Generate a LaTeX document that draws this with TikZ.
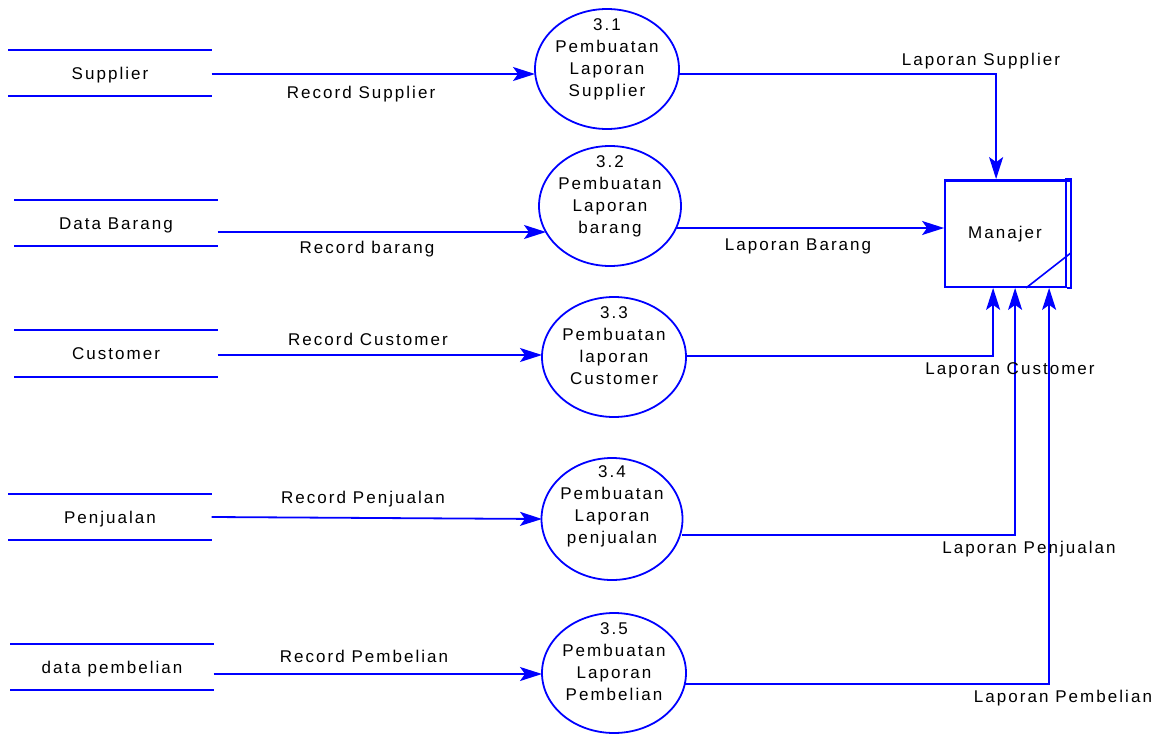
\documentclass[tikz,border=0pt]{standalone}
\usepackage{fontspec}
\setmainfont{Liberation Sans}[LetterSpace=12]
\usetikzlibrary{arrows.meta,calc,shapes.geometric}
\definecolor{dfdblue}{RGB}{0,0,255}
\tikzset{
  x=1pt, y=-1pt,
  every node/.style={font=\fontsize{17}{22}\selectfont, text=black},
  store/.style={minimum width=203pt, minimum height=46pt, inner sep=0pt,
                text height=12pt, text depth=0pt},
  storeline/.style={draw=dfdblue, line width=1.8pt},
  proc/.style={ellipse, draw=dfdblue, line width=1.8pt, inner sep=0pt},
  proctext/.style={align=center, inner sep=0pt},
  flow/.style={draw=dfdblue, line width=1.8pt, -{Stealth[length=22pt,width=14pt,inset=5pt]}},
  lbl/.style={inner sep=0pt}
}
\begin{document}
\begin{tikzpicture}
\useasboundingbox (0,0) rectangle (1162,736);

% external data stores (open-ended)
\node[store] (s1) at (110,73)  {Supplier};
\node[store] (s2) at (116,223) {Data Barang};
\node[store] (s3) at (116,353.5) {Customer};
\node[store] (s4) at (110,517) {Penjualan};
\node[store] (s5) at (112,667) {data pembelian};
\foreach \s in {s1,s2,s3,s4,s5}{
  \draw[storeline] (\s.north west) -- (\s.north east);
  \draw[storeline] (\s.south west) -- (\s.south east);
}

% processes
\node[proc, minimum width=144pt, minimum height=120pt] (p1) at (607,69)  {};
\node[proc, minimum width=142pt, minimum height=120pt] (p2) at (610,206) {};
\node[proc, minimum width=144pt, minimum height=120pt] (p3) at (614,357) {};
\node[proc, minimum width=141pt, minimum height=122pt] (p4) at (612,519) {};
\node[proc, minimum width=144pt, minimum height=120pt] (p5) at (614,673) {};
\node[proctext] (t1) at ($(p1.center)+(0,-10)$) {3.1\\Pembuatan\\Laporan\\Supplier};
\node[proctext] (t2) at ($(p2.center)+(0,-10)$) {3.2\\Pembuatan\\Laporan\\barang};
\node[proctext] (t3) at ($(p3.center)+(0,-11)$) {3.3\\Pembuatan\\laporan\\Customer};
\node[proctext] (t4) at ($(p4.center)+(0,-13)$) {3.4\\Pembuatan\\Laporan\\penjualan};
\node[proctext] (t5) at ($(p5.center)+(0,-11)$) {3.5\\Pembuatan\\Laporan\\Pembelian};

% external entity: Manajer
\node[minimum width=121pt, minimum height=107pt, inner sep=0pt, draw=dfdblue, line width=1.8pt] (m) at (1005.5,233.5) {};
\node[lbl] (mt) at (1005,234) {Manajer};
\draw[dfdblue, line width=1.3pt] ($(m.north east)+(-2,0)$) -- ++(6,0) -- ($(m.south east)+(4,0)$) -- (m.south east);
\draw[dfdblue, line width=1.3pt] ($(m.north west)+(0,2)$) -- ($(m.north east)+(4,2)$);
\coordinate (md1) at ($(m.south west)+(82,0)$);
\coordinate (md2) at ($(m.south east)+(4,-35)$);
\draw[dfdblue, line width=1.6pt] (md1) -- (md2);

% input flows
\draw[flow] ($(s1.east)+(0,1)$)  -- ($(p1.center)+(-72,5)$);
\draw[flow] ($(s2.east)+(0,9)$)  -- ($(p2.center)+(-64,26)$);
\draw[flow] ($(s3.east)+(0,1.5)$)  -- ($(p3.center)+(-72,-2)$);
\draw[flow] (s4.east)            -- ($(p4.center)+(-70,0)$);
\draw[flow] ($(s5.east)+(0,7)$)  -- ($(p5.center)+(-72,1)$);
\node[lbl] (r1) at (361,94)  {Record Supplier};
\node[lbl] (r2) at (367,249) {Record barang};
\node[lbl] (r3) at (368,339) {Record Customer};
\node[lbl] (r4) at (363,499) {Record Penjualan};
\node[lbl] (r5) at (364,656) {Record Pembelian};

% output flows to Manajer
\draw[flow] ($(p1.center)+(72,5)$) -| ($(m.north west)+(52,0)$);
\draw[flow] ($(p2.center)+(66,22)$) -- ($(m.west)+(0,-5.5)$);
\draw[flow] ($(p3.center)+(72,-1)$) -| ($(m.south west)+(49,0)$);
\draw[flow] ($(p4.center)+(70,16)$) -| ($(m.south west)+(71,0)$);
\draw[flow] ($(p5.center)+(71,11)$) -| ($(m.south west)+(105,0)$);
\node[lbl] (o1) at (981,61)  {Laporan Supplier};
\node[lbl] (o2) at (798,246) {Laporan Barang};
\node[lbl] (o3) at (1010,370) {Laporan Customer};
\node[lbl] (o4) at (1029,549) {Laporan Penjualan};
\node[lbl] (o5) at (1063,698) {Laporan Pembelian};
\end{tikzpicture}
\end{document}
